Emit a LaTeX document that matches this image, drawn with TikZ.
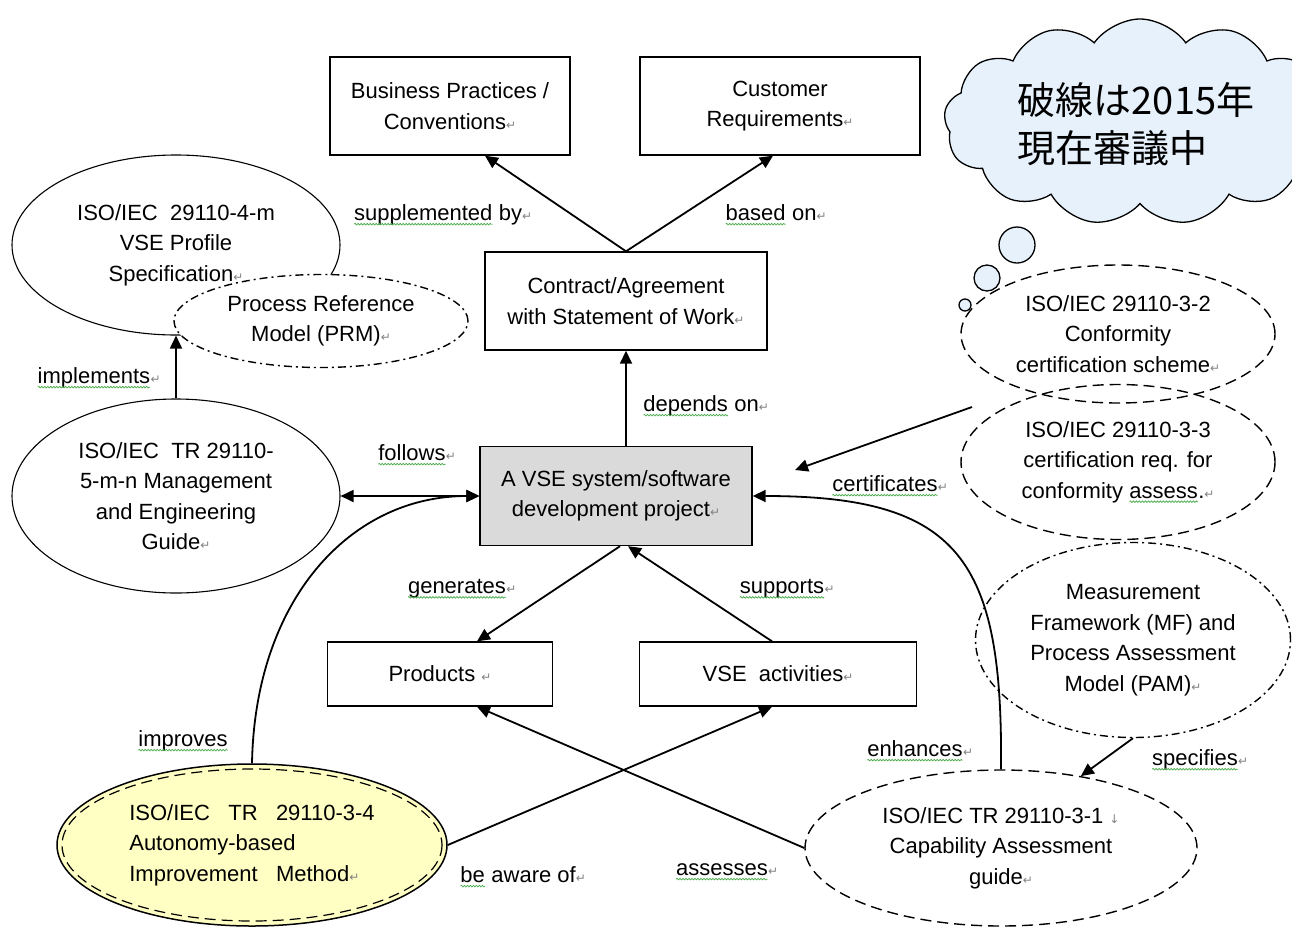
\documentclass[tikz,border=0pt]{standalone}
\usepackage{fontspec}
\setmainfont{Liberation Sans}
\newfontfamily\cjkfont{Noto Sans CJK JP}
\newfontfamily\symfont{DejaVu Sans}
\usetikzlibrary{arrows.meta,shapes.geometric,shapes.symbols,decorations.pathmorphing}
\definecolor{vsegray}{RGB}{218,218,218}
\definecolor{ylw}{RGB}{255,255,196}
\definecolor{cloudblue}{RGB}{230,241,252}
\definecolor{retgray}{RGB}{130,130,130}
\definecolor{spellgreen}{RGB}{70,170,70}
\newcommand\retmark{{\symfont\fontsize{12}{12}\selectfont\color{retgray}↵}}
\newcommand\brkmark{{\symfont\fontsize{12}{12}\selectfont\color{retgray}↓}}
\tikzset{
 txt/.style={font=\fontsize{22}{30.5}\selectfont, align=center},
 box/.style={txt, draw, line width=1.4pt, inner sep=4pt},
 ell/.style={txt, ellipse, inner sep=0pt, line width=1.1pt},
 lbl/.style={font=\fontsize{22}{30.5}\selectfont, inner sep=0pt},
 conn/.style={line width=1.8pt, -{Triangle[length=13pt,width=12pt]}},
 conn2/.style={line width=1.8pt, {Triangle[length=13pt,width=12pt]}-{Triangle[length=13pt,width=12pt]}},
 dsh/.style={dash pattern=on 11pt off 6pt, line width=1.4pt},
 dshdot/.style={dash pattern=on 8pt off 4pt on 2pt off 4pt, line width=1.4pt},
 spellline/.style={draw=spellgreen, solid, line width=0.7pt, decorate, decoration={snake, amplitude=0.8pt, segment length=3pt}},
 spellword/.style={shape=rectangle, draw=none, fill=none, minimum width=0pt, minimum height=0pt, inner sep=0pt, outer sep=0pt, anchor=base},
 bubble/.style={circle, draw, fill=cloudblue, line width=1.3pt, inner sep=0pt},
}
\newcommand\spellu[1]{\tikz[baseline=(sw.base)]{\node[spellword](sw) at (0,0){#1};\draw[spellline]([yshift=-3.5pt]sw.base west)--([yshift=-3.5pt]sw.base east);}}
\begin{document}
\begin{tikzpicture}[x=1pt,y=-1pt]
\useasboundingbox (0,0) rectangle (1292,927);
\clip (0,0) rectangle (1292,927);

% boxes
\node[box, minimum width=240, minimum height=98] (bp) at (450,106) {Business Practices /\\Conventions\retmark};
\node[box, minimum width=280, minimum height=98] (cr) at (780,106) {Customer\\Requirements\retmark};
\node[box, minimum width=282, minimum height=98] (con) at (626,301) {Contract/Agreement\\with Statement of Work\retmark};
\node[box, fill=vsegray, minimum width=272, minimum height=99] (vse) at (616,496) {A VSE system/software\\development project\retmark};
\node[box, minimum width=225, minimum height=64] (prod) at (440,674) {Products \retmark};
\node[box, minimum width=277, minimum height=64] (act) at (778,674) {VSE~~activities\retmark};

% ellipses
\node[ell, draw, minimum width=328, minimum height=180] (prof) at (176,245) {ISO/IEC~~29110-4-m\\VSE~Profile\\Specification\retmark};
\node[ell, draw, dshdot, fill=white, minimum width=294, minimum height=93] (prm) at (321,321) {Process Reference\\Model (PRM)\retmark};
\node[ell, draw, minimum width=328, minimum height=194] (mg) at (176,496) {ISO/IEC~~TR 29110-\\5-m-n~Management\\and Engineering\\Guide\retmark};
\node[ell, draw, dsh, minimum width=314, minimum height=138] (c32) at (1118,334) {ISO/IEC 29110-3-2\\Conformity\\certification scheme\retmark};
\node[ell, draw, dsh, minimum width=314, minimum height=155] (c33) at (1118,462) {ISO/IEC 29110-3-3\\certification req. for\\conformity \spellu{assess}.\retmark};
\node[ell, draw, dshdot, minimum width=315, minimum height=195] (mf) at (1133,640) {Measurement\\Framework (MF) and\\Process Assessment\\Model (PAM)\retmark};
\node[ell, draw, dsh, minimum width=392, minimum height=156] (c31) at (1001,848) {ISO/IEC TR 29110-3-1 \brkmark\\Capability Assessment\\guide\retmark};
\node[ell, draw, fill=ylw, line width=1.5pt, minimum width=390, minimum height=162, align=left] (y34) at (252,845) {ISO/IEC~~~TR~~~29110-3-4\\Autonomy-based\\Improvement~~~Method\retmark};
\draw[dsh, line width=1.2pt] (y34.center) ellipse [x radius=190, y radius=76];

% cloud
\node[cloud, draw, fill=cloudblue, line width=1.3pt, cloud puffs=13, cloud puff arc=110, aspect=2.0, minimum width=392, minimum height=206, inner sep=0pt] (cld) at (1140,122) {};
\node[font=\cjkfont\fontsize{38}{48}\selectfont, align=left, inner sep=0pt] (cldt) at (1136,124) {破線は2015年\\現在審議中};
\node[bubble, minimum size=36] (b1) at (1017,245) {};
\node[bubble, minimum size=26] (b2) at (987,278) {};
\node[bubble, minimum size=12] (b3) at (965,305) {};

% connectors
\draw[conn] (con.north) -- ([xshift=35]bp.south);
\draw[conn] (con.north) -- ([xshift=-7]cr.south);
\draw[conn] (con.south |- vse.north) -- (con.south);
\draw[conn2] (mg.east) -- (vse.west);
\draw[conn] ([xshift=4]vse.south) -- ([xshift=37]prod.north);
\draw[conn] ([xshift=-6]act.north) -- ([xshift=12]vse.south);
\coordinate (cs) at (972,407);
\coordinate (ct) at (795,470);
\draw[conn] (cs) -- (ct);
\draw[conn] (y34.north) .. controls (255,600) and (350,496) .. (vse.west);
\draw[conn] (c31.north) .. controls (1003,560) and (960,496) .. (vse.east);
\draw[conn] (y34.east) -- ([xshift=-6]act.south);
\draw[conn] (c31.west) -- ([xshift=37]prod.south);
\draw[conn] (mf.south) -- (c31.42);
\draw[conn] (mg.north) -- (prof.south);

% labels
\node[lbl] (lsup) at (443,215) {\spellu{supplemented} by\retmark};
\node[lbl] (lbas) at (776,215) {\spellu{based} on\retmark};
\node[lbl] (ldep) at (706,406) {\spellu{depends} on\retmark};
\node[lbl] (limp) at (99,378) {\spellu{implements}\retmark};
\node[lbl] (lfol) at (417,455) {\spellu{follows}\retmark};
\node[lbl] (lcer) at (890,486) {\spellu{certificates}\retmark};
\node[lbl] (lgen) at (462,589) {\spellu{generates}\retmark};
\node[lbl] (lsupp) at (787,589) {\spellu{supports}\retmark};
\node[lbl] (limpr) at (183,741) {\spellu{improves}};
\node[lbl] (lenh) at (920,751) {\spellu{enhances}\retmark};
\node[lbl] (lspe) at (1200,760) {\spellu{specifies}\retmark};
\node[lbl] (law) at (523,877) {\spellu{be} aware of\retmark};
\node[lbl] (lass) at (727,872) {\spellu{assesses}\retmark};
\end{tikzpicture}
\end{document}
